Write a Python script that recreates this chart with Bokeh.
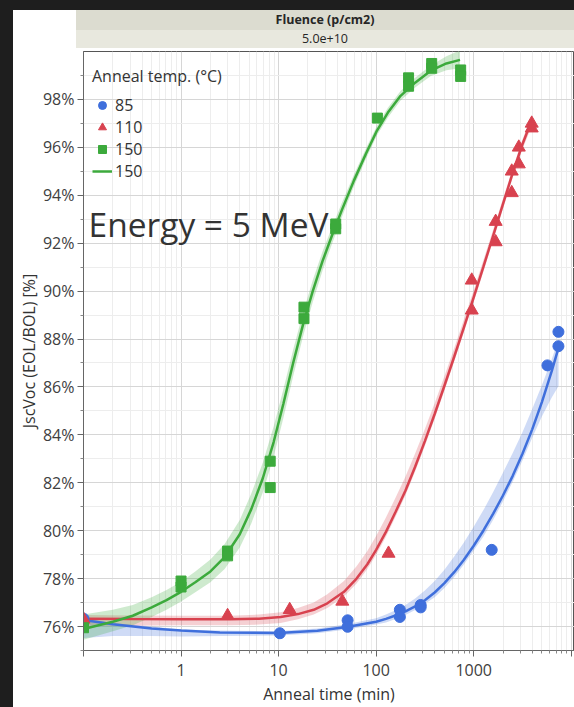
from bokeh.plotting import figure
from bokeh.models import (Range1d, FixedTicker, Legend, LegendItem, Label,
                          Spacer, Div, PrintfTickFormatter)
from bokeh.layouts import column, row
from bokeh.embed import file_html
from bokeh.resources import INLINE

# ---------------- data ----------------
header_labels = ["Fluence (p/cm2)", "5.0e+10"]
legend_title = "Anneal temp. (°C)"
series_labels = ["85", "110", "150", "150"]
annotation_text = "Energy = 5 MeV"

x_ticks = [0.1, 1, 10, 100, 1000, 10000]
x_tick_labels = ["", "1", "10", "100", "1000", ""]
x_minor = [m * 10.0 ** e for e in range(-1, 4) for m in range(2, 10)]
y_ticks = [76, 78, 80, 82, 84, 86, 88, 90, 92, 94, 96, 98]
y_minor = [75, 77, 79, 81, 83, 85, 87, 89, 91, 93, 95, 97, 99]

# 85 C (blue circles) + fitted curve and its band half-widths
blue_x = [0.1, 10.3, 51, 51, 175, 175, 286, 286, 1530, 5700, 7390, 7390]
blue_y = [76.33, 75.72, 76.26, 75.99, 76.7, 76.4, 76.9, 76.8, 79.2, 86.9, 88.3, 87.7]
blue_fit_x = [0.1, 0.2, 0.5, 1, 2.5, 10, 25, 50, 100, 126, 158, 200, 251, 316, 398, 501,
              631, 794, 1000, 1259, 1585, 1995, 2512, 3162, 3981, 5012, 6310, 7413]
blue_fit_y = [76.27, 76.1, 75.92, 75.83, 75.75, 75.73, 75.82, 75.98, 76.2, 76.32, 76.46, 76.63,
              76.84, 77.1, 77.42, 77.81, 78.27, 78.79, 79.37, 80.01, 80.71, 81.47, 82.29, 83.21,
              84.23, 85.38, 86.66, 87.64]
blue_band_lo = [0.75, 0.5, 0.32, 0.25, 0.15, 0.1, 0.1, 0.1, 0.12, 0.15, 0.15, 0.15, 0.15, 0.15,
                0.2, 0.2, 0.2, 0.2, 0.2, 0.25, 0.25, 0.25, 0.25, 0.28, 0.35, 0.6, 1.1, 1.6]
blue_band_hi = [0.08, 0.05, 0.08, 0.05, 0.08, 0.08, 0.1, 0.12, 0.15, 0.18, 0.22, 0.27, 0.33, 0.4,
                0.48, 0.56, 0.65, 0.72, 0.8, 0.85, 0.9, 0.95, 0.95, 0.9, 0.85, 0.7, 0.5, 0.35]

# 110 C (red triangles)
red_x = [0.1, 3, 13, 45, 134, 955, 955, 1680, 1680, 2455, 2455, 2900, 2900, 3935, 3935]
red_y = [76.3, 76.45, 76.7, 77.05, 79.05, 90.45, 89.2, 92.9, 92.05, 95.0, 94.1, 96.0, 95.3, 97.0, 96.8]
red_fit_x = [0.1, 0.32, 1, 3.16, 6.3, 10.5, 15.8, 22.9, 31.6, 46.8, 63, 81.3, 100, 126, 158,
             200, 251, 316, 398, 501, 631, 794, 1000, 1259, 1585, 1995, 2512, 3162, 3890]
red_fit_y = [76.33, 76.31, 76.3, 76.3, 76.33, 76.4, 76.52, 76.7, 76.97, 77.45, 78.0, 78.6, 79.2,
             79.95, 80.78, 81.68, 82.67, 83.74, 84.87, 86.05, 87.26, 88.49, 89.74, 91.02, 92.32,
             93.63, 94.93, 96.13, 97.08]
red_band_lo = [0.3, 0.28, 0.25, 0.25, 0.25, 0.25, 0.22, 0.2, 0.2, 0.2, 0.2, 0.2, 0.2, 0.2, 0.2,
               0.2, 0.2, 0.2, 0.2, 0.2, 0.2, 0.2, 0.2, 0.2, 0.2, 0.2, 0.2, 0.2, 0.25]
red_band_hi = [0.15, 0.15, 0.15, 0.15, 0.17, 0.2, 0.25, 0.3, 0.38, 0.45, 0.52, 0.55, 0.58, 0.6,
               0.6, 0.58, 0.55, 0.5, 0.45, 0.4, 0.35, 0.32, 0.3, 0.28, 0.25, 0.22, 0.2, 0.2, 0.2]

# 150 C (green squares)
green_x = [0.1, 1, 1, 3, 3, 8.2, 8.2, 18.2, 18.2, 38.5, 38.5, 103, 215, 215, 371, 371, 735, 735]
green_y = [75.95, 77.9, 77.65, 79.15, 78.95, 82.9, 81.8, 89.33, 88.85, 92.8, 92.6, 97.22, 98.9,
           98.55, 99.5, 99.3, 99.23, 98.96]
green_fit_x = [0.1, 0.2, 0.32, 0.5, 0.71, 1, 1.4, 2, 2.8, 4, 5.25, 6.9, 8.9, 11.2, 14.1, 17.8,
               22.4, 28.2, 35.5, 44.7, 59, 79, 102, 132, 178, 251, 363, 525, 724]
green_fit_y = [75.9, 76.2, 76.45, 76.8, 77.1, 77.45, 77.85, 78.3, 78.9, 79.85, 80.9, 82.2, 83.7,
               85.3, 87.0, 88.6, 90.0, 91.25, 92.35, 93.4, 94.6, 95.75, 96.7, 97.45, 98.15,
               98.7, 99.2, 99.5, 99.65]
green_band_lo = [0.45, 0.4, 0.4, 0.4, 0.4, 0.4, 0.42, 0.45, 0.5, 0.55, 0.6, 0.6, 0.6, 0.6, 0.55,
                 0.5, 0.45, 0.4, 0.35, 0.3, 0.25, 0.22, 0.2, 0.2, 0.2, 0.2, 0.22, 0.28, 0.35]
green_band_hi = [0.6, 0.5, 0.45, 0.42, 0.42, 0.42, 0.45, 0.5, 0.55, 0.6, 0.65, 0.65, 0.65, 0.6,
                 0.55, 0.5, 0.45, 0.4, 0.35, 0.3, 0.25, 0.22, 0.2, 0.2, 0.2, 0.2, 0.22, 0.3, 0.4]

BLUE = "#3f6fdc"
RED = "#d8424f"
GREEN = "#3caa3c"
FONT = "Open Sans"
TXT = "#404040"
DARK = "#1e1e1e"

# ---------------- header (two banded rows) ----------------
header_html = (
    f'<div style="margin-left:63px;width:498px;font-family:\'{FONT}\';font-size:12.5px;color:#262626;">'
    f'<div style="height:20px;line-height:20px;background:#dcdcd0;text-align:center;font-weight:bold;">{header_labels[0]}</div>'
    f'<div style="height:18px;line-height:18px;background:#e8e8de;text-align:center;">{header_labels[1]}</div>'
    '</div>'
)
header = Div(text=header_html, width=561, height=40,
             styles={"background-color": "white", "margin": "0", "padding": "0"})

# ---------------- main plot ----------------
p = figure(width=561, height=657, x_axis_type="log",
           x_range=Range1d(0.1, 10800), y_range=Range1d(75, 100),
           min_border_left=70, min_border_right=0, min_border_top=1, min_border_bottom=55,
           toolbar_location=None, output_backend="svg")
p.outline_line_color = "#555555"
p.background_fill_color = "white"

xt = FixedTicker(ticks=x_ticks, minor_ticks=x_minor)
yt = FixedTicker(ticks=y_ticks, minor_ticks=y_minor)
p.xaxis.ticker = xt
p.yaxis.ticker = yt
p.xgrid.ticker = xt
p.ygrid.ticker = yt
p.xaxis.major_label_overrides = {t: l for t, l in zip(x_ticks, x_tick_labels)}
p.yaxis.formatter = PrintfTickFormatter(format="%d%%")

for g in (p.xgrid, p.ygrid):
    g.grid_line_color = "#d6d6d6"
    g.minor_grid_line_color = "#ededed"

for ax in (p.xaxis, p.yaxis):
    ax.axis_line_color = "#666666"
    ax.major_tick_line_color = "#666666"
    ax.minor_tick_line_color = "#888888"
    ax.major_tick_out = 6
    ax.major_tick_in = 0
    ax.minor_tick_out = 3
    ax.minor_tick_in = 0
    ax.major_label_text_font = FONT
    ax.major_label_text_font_size = "16px"
    ax.major_label_text_color = TXT
    ax.axis_label_text_font = FONT
    ax.axis_label_text_font_size = "16px"
    ax.axis_label_text_font_style = "normal"
    ax.axis_label_text_color = "#333333"

p.xaxis.axis_label = "Anneal time (min)"
p.yaxis.axis_label = "JscVoc (EOL/BOL) [%]"
p.xaxis.major_label_standoff = 7
p.xaxis.axis_label_standoff = 4
p.yaxis.major_label_standoff = 3
p.yaxis.axis_label_standoff = 0


def band(fit_y, lo, hi):
    return [y - d for y, d in zip(fit_y, lo)], [y + d for y, d in zip(fit_y, hi)]


# confidence bands
for fx, fy, lo, hi, c in ((blue_fit_x, blue_fit_y, blue_band_lo, blue_band_hi, BLUE),
                          (red_fit_x, red_fit_y, red_band_lo, red_band_hi, RED),
                          (green_fit_x, green_fit_y, green_band_lo, green_band_hi, GREEN)):
    y1, y2 = band(fy, lo, hi)
    p.varea(x=fx, y1=y1, y2=y2, fill_color=c, fill_alpha=0.25)

# fit lines
p.line(blue_fit_x, blue_fit_y, line_color=BLUE, line_width=2.5)
p.line(red_fit_x, red_fit_y, line_color=RED, line_width=2.5)
gl = p.line(green_fit_x, green_fit_y, line_color=GREEN, line_width=2.5)

# points
bc = p.scatter(blue_x, blue_y, marker="circle", size=11, fill_color=BLUE, line_color=BLUE)
rt = p.scatter(red_x, red_y, marker="triangle", size=13, fill_color=RED, line_color=RED)
gs = p.scatter(green_x, green_y, marker="square", size=10, fill_color=GREEN, line_color=GREEN)

legend = Legend(items=[LegendItem(label=series_labels[0], renderers=[bc]),
                       LegendItem(label=series_labels[1], renderers=[rt]),
                       LegendItem(label=series_labels[2], renderers=[gs]),
                       LegendItem(label=series_labels[3], renderers=[gl])],
                location=(9, 468), title=legend_title)
legend.background_fill_alpha = 0
legend.border_line_color = None
legend.margin = 0
legend.padding = 3
legend.title_text_font = FONT
legend.title_text_font_size = "16px"
legend.title_text_font_style = "normal"
legend.title_text_color = "#333333"
legend.title_standoff = 7
legend.label_text_font = FONT
legend.label_text_font_size = "16px"
legend.label_text_color = "#333333"
legend.label_standoff = 3
legend.glyph_width = 20
legend.glyph_height = 22
legend.label_height = 20
legend.spacing = 0
p.add_layout(legend)

p.add_layout(Label(x=0.1126, y=92.8, text=annotation_text, text_font=FONT,
                   text_font_size="33.5px", text_color="#333333", text_baseline="alphabetic"))

root = row(Spacer(width=13, height=707, styles={"background-color": DARK}),
           column(Spacer(width=561, height=10, styles={"background-color": DARK}), header, p))

open("out.html", "w").write(file_html(root, INLINE, title="chart"))
